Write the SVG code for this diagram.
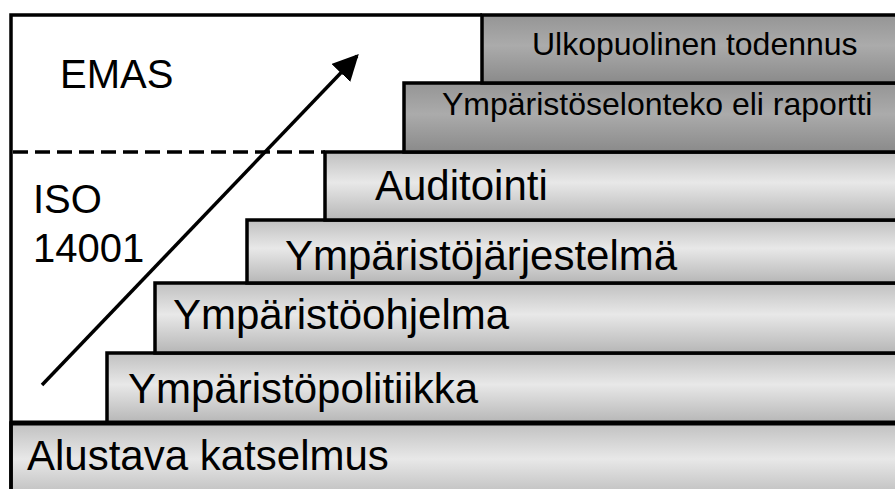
<svg xmlns="http://www.w3.org/2000/svg" width="895" height="489" viewBox="0 0 895 489">
<style>
.bar{stroke:#000;stroke-width:3.5}
.light{fill:url(#gl)}
.dark{fill:url(#gd)}
text{font-family:"Liberation Sans",Arial,sans-serif;fill:#000}
.big{font-size:42px}
.sm{font-size:32px}
.lbl{font-size:40px}
</style>
<defs>
<linearGradient id="gl" x1="0" y1="0" x2="0" y2="1">
<stop offset="0" stop-color="#c0c0c0"/>
<stop offset="0.45" stop-color="#e8e8e8"/>
<stop offset="1" stop-color="#b6b6b6"/>
</linearGradient>
<linearGradient id="gd" x1="0" y1="0" x2="0" y2="1">
<stop offset="0" stop-color="#959595"/>
<stop offset="0.45" stop-color="#ababab"/>
<stop offset="1" stop-color="#8a8a8a"/>
</linearGradient>
<marker id="ah" viewBox="0 0 10 10" refX="9" refY="5" markerWidth="26" markerHeight="26" markerUnits="userSpaceOnUse" orient="auto">
<path d="M0 0 L10 5 L0 10 Z" fill="#000"/>
</marker>
</defs>
<rect width="895" height="489" fill="#fff"/>
<g id="alustava"><rect class="bar light" x="11" y="423" width="900" height="80"/><text class="big" x="27" y="470">Alustava katselmus</text></g>
<g id="politiikka"><rect class="bar light" x="107" y="353" width="800" height="70"/><text class="big" x="128" y="403">Ympäristöpolitiikka</text></g>
<g id="ohjelma"><rect class="bar light" x="155" y="283" width="760" height="70"/><text class="big" x="173" y="329">Ympäristöohjelma</text></g>
<g id="jarjestelma"><rect class="bar light" x="247" y="220" width="700" height="63"/><text class="big" x="285" y="270">Ympäristöjärjestelmä</text></g>
<g id="auditointi"><rect class="bar light" x="325" y="152" width="600" height="68"/><text class="big" x="375" y="200">Auditointi</text></g>
<g id="selonteko"><rect class="bar dark" x="404" y="83" width="520" height="69"/><text class="sm" x="442" y="115">Ympäristöselonteko eli raportti</text></g>
<g id="todennus"><rect class="bar dark" x="482" y="15" width="440" height="68"/><text class="sm" x="532" y="55">Ulkopuolinen todennus</text></g>
<g id="frame"><path d="M11 500 V15 H482" fill="none" stroke="#000" stroke-width="3.5"/><line x1="11" y1="423" x2="895" y2="423" stroke="#000" stroke-width="5"/></g>
<g id="emas"><text class="lbl" x="60" y="88">EMAS</text></g>
<g id="iso"><text class="lbl" x="33" y="213">ISO</text><text class="lbl" x="33" y="262">14001</text></g>
<g id="connectors">
<line x1="13" y1="152" x2="325" y2="152" stroke="#000" stroke-width="3.5" stroke-dasharray="15 7"/>
<line x1="42" y1="385" x2="357" y2="56" stroke="#000" stroke-width="3.5" marker-end="url(#ah)"/>
</g>
</svg>
